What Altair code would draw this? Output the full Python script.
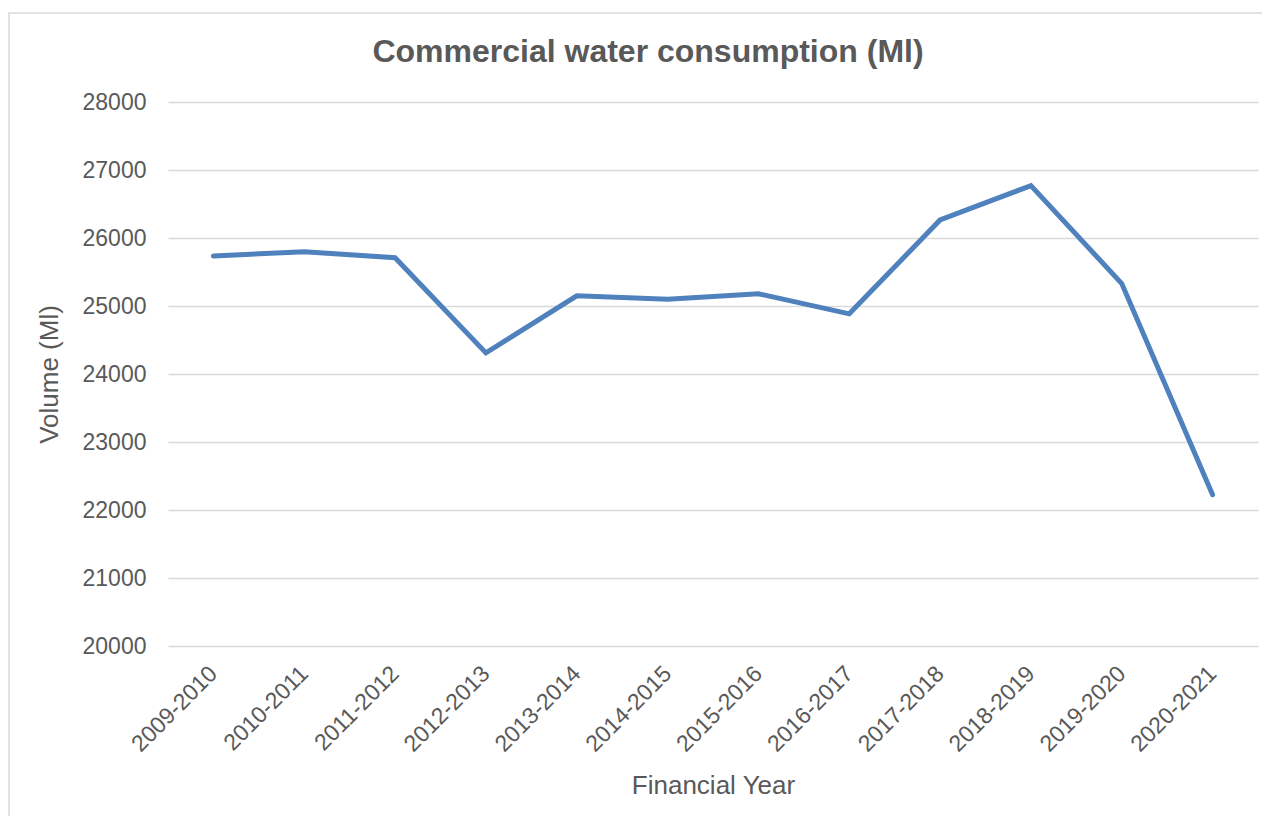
import altair as alt
import pandas as pd

years = ["2009-2010", "2010-2011", "2011-2012", "2012-2013", "2013-2014", "2014-2015",
         "2015-2016", "2016-2017", "2017-2018", "2018-2019", "2019-2020", "2020-2021"]
volume = [25735, 25799, 25710, 24310, 25150, 25098, 25180, 24885, 26265, 26770, 25330, 22225]
y_ticks = [20000, 21000, 22000, 23000, 24000, 25000, 26000, 27000, 28000]

df = pd.DataFrame({"Financial Year": years, "Volume": volume})

FONT = "Liberation Sans"
GREY = "#595959"

frame = alt.Chart(pd.DataFrame({"a": [0]})).mark_rect(
    filled=False, stroke="#d9d9d9", strokeWidth=1.5, clip=False
).encode(
    x=alt.value(-159), x2=alt.value(1200), y=alt.value(-89), y2=alt.value(900)
)

line = alt.Chart(df).mark_line(
    color="#4f81bd", strokeWidth=5, strokeCap="round"
).encode(
    x=alt.X("Financial Year:N", sort=years,
            scale=alt.Scale(type="point", padding=0.5),
            axis=alt.Axis(title="Financial Year", labelAngle=-45, labelPadding=16,
                          labelOffset=-8,
                          ticks=False, domain=False, grid=False,
                          titleX=545, titleY=147, titleBaseline="alphabetic",
                          titleAlign="center")),
    y=alt.Y("Volume:Q", scale=alt.Scale(domain=[20000, 28000], nice=False, zero=False),
            axis=alt.Axis(title="Volume (Ml)", values=y_ticks, format="d",
                          ticks=False, domain=False, labelPadding=22,
                          titleX=-111, titleY=272, titleAngle=-90,
                          titleBaseline="alphabetic", titleAlign="center"))
)

chart = alt.layer(frame, line).properties(
    width=1090, height=544,
    autosize=alt.AutoSizeParams(type="none"),
    padding={"left": 160, "top": 94, "right": 4, "bottom": 170},
    title=alt.TitleParams(text="Commercial water consumption (Ml)", fontSize=32,
                          fontWeight="bold", color=GREY, font=FONT, anchor="middle",
                          dx=-65, offset=-82, baseline="alphabetic")
).configure_view(stroke=None).configure_axis(
    labelFont=FONT, labelFontSize=23, labelColor=GREY,
    titleFont=FONT, titleFontSize=26, titleColor=GREY, titleFontWeight="normal",
    gridColor="#d9d9d9", gridWidth=1.5
)

chart.save("out.html", embed_options={"renderer": "svg", "actions": False})
